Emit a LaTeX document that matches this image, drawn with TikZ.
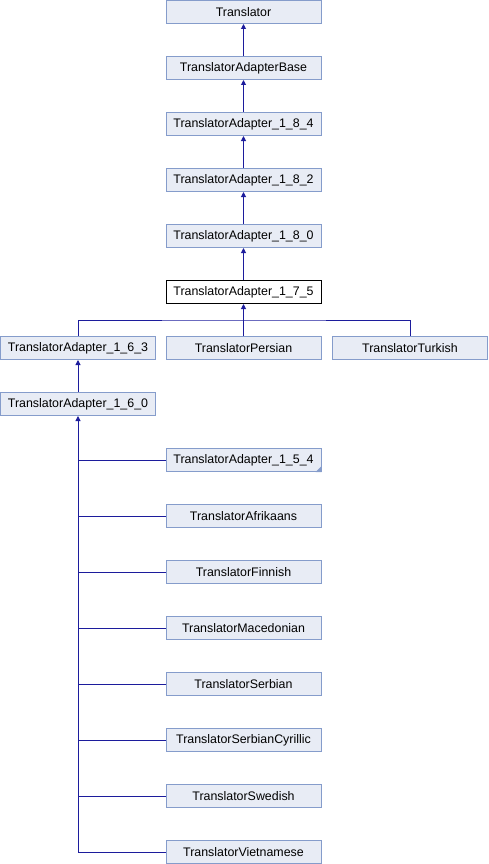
\documentclass[tikz,border=0pt]{standalone}
\usepackage{fontspec}
\setmainfont{Liberation Sans}
\usetikzlibrary{arrows.meta}
\definecolor{boxfill}{HTML}{E8ECF5}
\definecolor{boxline}{HTML}{859CCB}
\definecolor{edgeblue}{HTML}{1C1C9C}

\begin{document}
\begin{tikzpicture}[
  x=1pt, y=-1pt,
  every node/.style={font=\fontsize{12.4}{14}\selectfont},
  box/.style={draw=boxline, fill=boxfill, line width=1pt, minimum width=155pt, minimum height=23pt, inner sep=0pt},
  cur/.style={box, draw=black, fill=white},
  link/.style={edgeblue, line width=1pt},
  arr/.style={link, -{Triangle[length=5pt, width=5pt]}}
]
  \useasboundingbox (0,0) rectangle (488,864);
  % inheritance chain
  \node[box] (tr) at (243.5,12) {Translator};
  \node[box] (base) at (243.5,68) {TranslatorAdapterBase};
  \node[box] (a184) at (243.5,124) {TranslatorAdapter\_1\_8\_4};
  \node[box] (a182) at (243.5,180) {TranslatorAdapter\_1\_8\_2};
  \node[box] (a180) at (243.5,236) {TranslatorAdapter\_1\_8\_0};
  \node[cur] (a175) at (243.5,292) {TranslatorAdapter\_1\_7\_5};
  \node[box] (a163) at (78,348) {TranslatorAdapter\_1\_6\_3};
  \node[box] (persian) at (243.5,348) {TranslatorPersian};
  \node[box] (turkish) at (410,348) {TranslatorTurkish};
  \node[box] (a160) at (78,404) {TranslatorAdapter\_1\_6\_0};
  \node[box] (a154) at (243.5,460) {TranslatorAdapter\_1\_5\_4};
  \node[box] (afrikaans) at (243.5,516) {TranslatorAfrikaans};
  \node[box] (finnish) at (243.5,572) {TranslatorFinnish};
  \node[box] (macedonian) at (243.5,628) {TranslatorMacedonian};
  \node[box] (serbian) at (243.5,684) {TranslatorSerbian};
  \node[box] (cyrillic) at (243.5,740) {TranslatorSerbianCyrillic};
  \node[box] (swedish) at (243.5,796) {TranslatorSwedish};
  \node[box] (vietnamese) at (243.5,852) {TranslatorVietnamese};
  % more subclasses not shown
  \fill[boxline] (a154.south east) -- ([xshift=-6pt]a154.south east) -- ([yshift=6pt]a154.south east) -- cycle;

  \draw[arr] (base) -- (tr);
  \draw[arr] (a184) -- (base);
  \draw[arr] (a182) -- (a184);
  \draw[arr] (a180) -- (a182);
  \draw[arr] (a175) -- (a180);

  \coordinate (fork) at (243.5,320);
  \draw[link] (a163.north) |- (fork) -| (turkish.north);
  \draw[arr] (persian) -- (a175);
  \draw[arr] (a160) -- (a163);

  \draw[arr] (vietnamese.west) -| (a160.south);
  \draw[link] (a154.west) -- (a154.west -| a160.south);
  \draw[link] (afrikaans.west) -- (afrikaans.west -| a160.south);
  \draw[link] (finnish.west) -- (finnish.west -| a160.south);
  \draw[link] (macedonian.west) -- (macedonian.west -| a160.south);
  \draw[link] (serbian.west) -- (serbian.west -| a160.south);
  \draw[link] (cyrillic.west) -- (cyrillic.west -| a160.south);
  \draw[link] (swedish.west) -- (swedish.west -| a160.south);
\end{tikzpicture}
\end{document}
